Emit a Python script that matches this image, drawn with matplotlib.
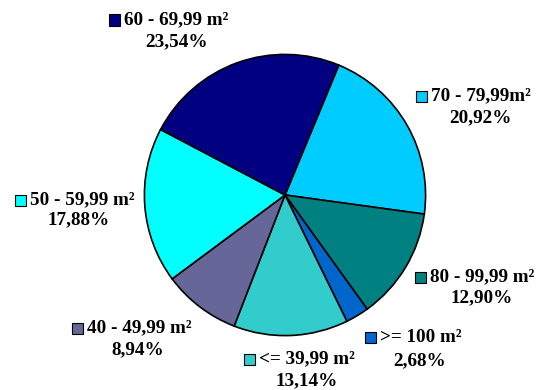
import matplotlib
matplotlib.use("Agg")
import matplotlib.pyplot as plt
from matplotlib.patches import Rectangle

# Apartment size classes, listed clockwise from the top-right wedge
categories = ["70 - 79,99m²", "80 - 99,99 m²", ">= 100 m²", "<= 39,99 m²",
              "40 - 49,99 m²", "50 - 59,99 m²", "60 - 69,99 m²"]
shares = [20.92, 12.90, 2.68, 13.14, 8.94, 17.88, 23.54]
colors = ["#00CCFF", "#008080", "#0066CC", "#33CCCC", "#666699", "#00FFFF", "#000080"]

# label anchors in pixels: (left edge of key square, centre y of first line,
# centre x of the percentage line, centre y of the percentage line)
label_pos = [
    (416, 96, 480, 118),
    (415, 277, 482, 298),
    (365, 337, 420, 361),
    (244, 359, 307, 381),
    (72, 328, 138, 350),
    (15, 200, 79, 220),
    (109, 20, 177, 42),
]

W, H = 536, 390
fig = plt.figure(figsize=(W / 100, H / 100), dpi=100)
fig.patch.set_facecolor("white")

cx, cy, r = 285, 195, 142
ax = fig.add_axes([(cx - r) / W, (H - cy - r) / H, 2 * r / W, 2 * r / H])
ax.pie(shares, colors=colors, startangle=67.5, counterclock=False,
       wedgeprops=dict(edgecolor="black", linewidth=1.2))
ax.set_xlim(-1.01, 1.01)
ax.set_ylim(-1.01, 1.01)
ax.set_aspect("equal")
ax.axis("off")

font = dict(family="Liberation Serif", weight="bold", size=13.8, color="black")
sq = 11
for cat, val, col, (kx, ky, px, py) in zip(categories, shares, colors, label_pos):
    fig.patches.append(Rectangle((kx / W, (H - ky - sq / 2) / H), sq / W, sq / H,
                                 transform=fig.transFigure, facecolor=col,
                                 edgecolor="black", linewidth=0.8))
    fig.text((kx + sq + 4) / W, (H - ky) / H, cat, ha="left", va="center", **font)
    fig.text(px / W, (H - py) / H, f"{val:.2f}%".replace(".", ","),
             ha="center", va="center", **font)

fig.savefig("out.png", dpi=100)
